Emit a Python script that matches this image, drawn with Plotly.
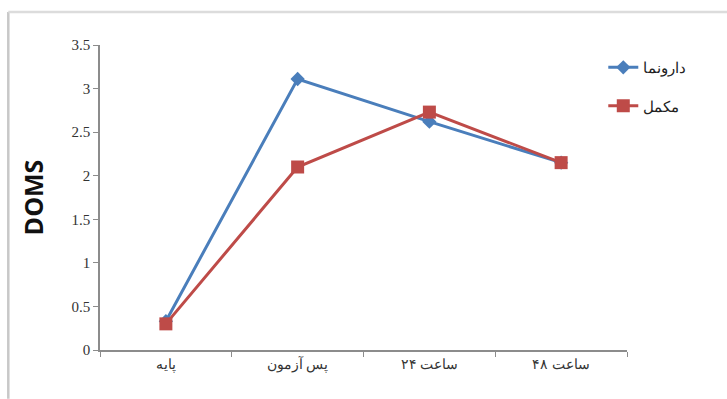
import plotly.graph_objects as go

# Time points (categories) and mean DOMS scores per group
categories = ["پایه", "پس آزمون", "۲۴ ساعت", "۴۸ ساعت"]
placebo = [0.33, 3.11, 2.62, 2.15]
supplement = [0.30, 2.10, 2.73, 2.15]
series_names = ["دارونما", "مکمل"]
y_ticks = [0, 0.5, 1, 1.5, 2, 2.5, 3, 3.5]
y_tick_labels = ["0", "0.5", "1", "1.5", "2", "2.5", "3", "3.5"]

blue = "#4a7ebb"
red = "#be4b48"
axis_grey = "#8c8c8c"
serif = "Liberation Serif, Times New Roman, serif"

fig = go.Figure()
fig.add_trace(go.Scatter(
    x=categories, y=placebo, name=series_names[0], mode="lines+markers",
    line=dict(color=blue, width=3),
    marker=dict(symbol="diamond", size=11, color=blue),
    legendgroup="a",
))
fig.add_trace(go.Scatter(
    x=categories, y=supplement, name=series_names[1], mode="lines+markers",
    line=dict(color=red, width=3),
    marker=dict(symbol="square", size=13, color=red),
    legendgroup="b",
))

fig.update_layout(
    width=727, height=399,
    margin=dict(l=100, r=100, t=45, b=49),
    paper_bgcolor="white", plot_bgcolor="white",
    showlegend=True,
    legend=dict(
        x=0.955, y=0.98, xanchor="left", yanchor="top",
        font=dict(family=serif, size=15, color="#222"),
        tracegroupgap=16, bgcolor="rgba(0,0,0,0)",
    ),
    xaxis=dict(
        type="category", showgrid=False, showline=True,
        linecolor=axis_grey, linewidth=1.5,
        ticks="outside", tickson="boundaries", ticklen=5, tickcolor=axis_grey,
        tickfont=dict(family=serif, size=14, color="#333"),
        range=[-0.5, 3.5],
    ),
    yaxis=dict(
        range=[0, 3.5], tickvals=y_ticks, ticktext=y_tick_labels,
        showgrid=False, showline=True, linecolor=axis_grey, linewidth=1.5,
        ticks="outside", ticklen=5, tickcolor=axis_grey,
        tickfont=dict(family=serif, size=15, color="#333"),
        title=dict(text="<b>DOMS</b>", font=dict(family="Open Sans", size=25, color="#111"),
                   standoff=21),
        zeroline=False,
    ),
)

# Thin frame on the left and top edges of the chart area
fig.add_shape(type="line", xref="paper", yref="paper", x0=-0.174, x1=-0.174, y0=-0.16, y1=1.108,
              line=dict(color="#c8c8c8", width=2.5))
fig.add_shape(type="line", xref="paper", yref="paper", x0=-0.174, x1=1.19, y0=1.108, y1=1.108,
              line=dict(color="#dcdcdc", width=2.5))

fig.write_html("out.html")
